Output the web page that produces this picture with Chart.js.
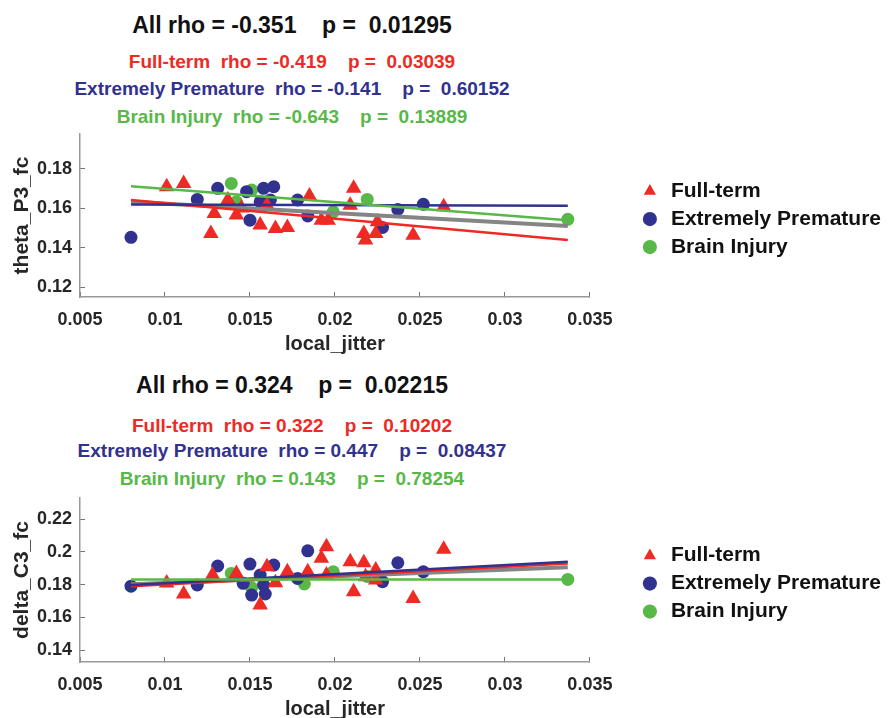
<!DOCTYPE html>
<html>
<head>
<meta charset="utf-8">
<script src="https://cdn.jsdelivr.net/npm/chart.js@4/dist/chart.umd.min.js"></script>
<style>
    html, body { margin: 0; padding: 0; background: #fff; }
    body { width: 891px; height: 718px; overflow: hidden; position: relative; font-family: 'Liberation Sans', Arial, sans-serif; }
    .title { position: absolute; left: 0; width: 584px; text-align: center; font-weight: bold; white-space: pre; }
    .main { font-size: 23px; line-height: 23px; color: #111; }
    .sub { font-size: 19px; line-height: 19px; }
    canvas { position: absolute; left: 0; }
</style>
</head>
<body>
<div class="title main" style="top:14px">All rho = -0.351    p =  0.01295</div>
<div class="title sub" style="top:52px;color:#ee2a24">Full-term  rho = -0.419    p =  0.03039</div>
<div class="title sub" style="top:79px;color:#31318f">Extremely Premature  rho = -0.141    p =  0.60152</div>
<div class="title sub" style="top:107px;color:#58b848">Brain Injury  rho = -0.643    p =  0.13889</div>
<canvas id="thetaChart" width="891" height="359" style="top:0"></canvas>

<div class="title main" style="top:374px">All rho = 0.324    p =  0.02215</div>
<div class="title sub" style="top:416px;color:#ee2a24">Full-term  rho = 0.322    p =  0.10202</div>
<div class="title sub" style="top:441px;color:#31318f">Extremely Premature  rho = 0.447    p =  0.08437</div>
<div class="title sub" style="top:469px;color:#58b848">Brain Injury  rho = 0.143    p =  0.78254</div>
<canvas id="deltaChart" width="891" height="365" style="top:359px"></canvas>

<script>
// group names (legend)
const groups = ['Full-term', 'Extremely Premature', 'Brain Injury'];

// axis ticks
const jitterTicks = [0.005, 0.01, 0.015, 0.02, 0.025, 0.03, 0.035];
const thetaTicks = [0.12, 0.14, 0.16, 0.18];
const deltaTicks = [0.14, 0.16, 0.18, 0.2, 0.22];

// ---- theta_P3_fc vs local_jitter (top) ----
const ftJitterTop = [0.0101, 0.0111, 0.0127, 0.0129, 0.0137, 0.0142, 0.0145, 0.0156, 0.0160, 0.0165, 0.0172,
    0.0185, 0.0192, 0.0196, 0.0209, 0.0211, 0.0217, 0.0218, 0.0224, 0.0225, 0.0246, 0.0264];
const ftTheta = [0.1708, 0.1725, 0.1472, 0.1573, 0.1641, 0.1565, 0.1600, 0.1514, 0.1615, 0.1497, 0.1502,
    0.1661, 0.1539, 0.1539, 0.1615, 0.1700, 0.1472, 0.1438, 0.1472, 0.1531, 0.1463, 0.1607];

const epJitterTop = [0.0080, 0.0119, 0.0131, 0.0148, 0.0150, 0.0156, 0.0158, 0.0162, 0.0164, 0.0178, 0.0184,
    0.0228, 0.0237, 0.0252];
const epTheta = [0.1452, 0.1644, 0.1700, 0.1683, 0.1539, 0.1632, 0.1700, 0.1641, 0.1708, 0.1641, 0.1560,
    0.1502, 0.1593, 0.1619];

const biJitterTop = [0.0139, 0.0142, 0.0151, 0.0199, 0.0219, 0.0337];
const biTheta = [0.1725, 0.1632, 0.1691, 0.1581, 0.1644, 0.1543];

// fitted lines (end points)
const fitJitter = [0.008, 0.0337];
const thetaFitAll = [0.1632, 0.1509];
const thetaFitFt = [0.1641, 0.1438];
const thetaFitEp = [0.1618, 0.1612];
const thetaFitBi = [0.1711, 0.1539];

// ---- delta_C3_fc vs local_jitter (bottom) ----
const ftJitterBottom = [0.0101, 0.0111, 0.0128, 0.0142, 0.0156, 0.0160, 0.0165, 0.0172, 0.0184, 0.0192, 0.0195,
    0.0195, 0.0209, 0.0211, 0.0217, 0.0218, 0.0224, 0.0224, 0.0246, 0.0264];
const ftDelta = [0.1810, 0.1743, 0.1859, 0.1869, 0.1675, 0.1910, 0.1812, 0.1879, 0.1879, 0.1961, 0.2032,
    0.1859, 0.1940, 0.1757, 0.1934, 0.1848, 0.1889, 0.1828, 0.1716, 0.2016];

const epJitterBottom = [0.0080, 0.0119, 0.0131, 0.0146, 0.0150, 0.0151, 0.0156, 0.0158, 0.0159, 0.0164, 0.0178,
    0.0184, 0.0228, 0.0237, 0.0252];
const epDelta = [0.1791, 0.1798, 0.1914, 0.1808, 0.1926, 0.1736, 0.1859, 0.1798, 0.1743, 0.1920, 0.1838,
    0.2007, 0.1818, 0.1934, 0.1879];

const biJitterBottom = [0.0139, 0.0151, 0.0182, 0.0199, 0.0219, 0.0337];
const biDelta = [0.1869, 0.1781, 0.1804, 0.1879, 0.1850, 0.1832];

const deltaFitAll = [0.1802, 0.1906];
const deltaFitFt = [0.1791, 0.1930];
const deltaFitEp = [0.1798, 0.1940];
const deltaFitBi = [0.1832, 0.1832];

const RED = '#ee2a24';
const BLUE = '#31318f';
const GREEN = '#58b848';
const GRAY = '#858585';

Chart.defaults.font.family = "'Liberation Sans', Arial, sans-serif";
Chart.defaults.color = '#222';

function toPoints(xs, ys) {
    return xs.map((x, i) => ({ x: x, y: ys[i] }));
}

function scatterSet(label, xs, ys, color, style, radius) {
    return {
        type: 'scatter',
        label: label,
        data: toPoints(xs, ys),
        backgroundColor: color,
        borderColor: color,
        borderWidth: 0,
        pointStyle: style,
        pointRadius: radius,
        order: 2
    };
}

function fitSet(ys, color, width) {
    return {
        type: 'line',
        label: 'fit',
        data: toPoints(fitJitter, ys),
        borderColor: color,
        borderWidth: width,
        pointRadius: 0,
        fill: false,
        order: 1
    };
}

// builds one panel: scatter of the 3 groups + regression lines
function makePanel(canvasId, series, fits, yTitle, yMin, yMax, yTicks, topPad) {
    const ctx = document.getElementById(canvasId).getContext('2d');
    return new Chart(ctx, {
        type: 'scatter',
        data: {
            datasets: [
                scatterSet(groups[0], series[0][0], series[0][1], RED, 'triangle', 9),
                scatterSet(groups[1], series[1][0], series[1][1], BLUE, 'circle', 6.5),
                scatterSet(groups[2], series[2][0], series[2][1], GREEN, 'circle', 6.5),
                fitSet(fits[3], GREEN, 2.5),
                fitSet(fits[2], BLUE, 2.5),
                fitSet(fits[1], RED, 2.5),
                fitSet(fits[0], GRAY, 4)
            ]
        },
        options: {
            responsive: false,
            animation: false,
            layout: { padding: { top: topPad, left: 0, right: 0, bottom: 0 } },
            plugins: {
                tooltip: { enabled: false },
                legend: {
                    position: 'right',
                    fullSize: false,
                    maxWidth: 400,
                    // empty title only pushes the entries down a little
                    title: { display: true, text: '', font: { size: 6 }, padding: 0 },
                    labels: {
                        usePointStyle: true,
                        boxHeight: 10,
                        padding: 7,
                        color: '#111',
                        font: { size: 21, weight: 'bold' },
                        filter: item => item.text !== 'fit'
                    }
                }
            },
            scales: {
                x: {
                    type: 'linear',
                    position: 'bottom',
                    min: 0.005,
                    max: 0.035,
                    afterBuildTicks: axis => { axis.ticks = jitterTicks.map(v => ({ value: v })); },
                    afterFit: scale => { scale.height = 62; },
                    ticks: {
                        font: { size: 18, weight: 'bold' }, color: '#262626', padding: 17, maxRotation: 0,
                        callback: value => String(value)
                    },
                    grid: { drawOnChartArea: false, tickLength: -5, color: '#777' },
                    border: { color: '#999', width: 1.5 },
                    title: {
                        display: true,
                        text: 'local_jitter',
                        font: { size: 20, weight: 'bold' },
                        color: '#262626',
                        padding: { top: 3, bottom: 3 }
                    }
                },
                y: {
                    type: 'linear',
                    position: 'left',
                    min: yMin,
                    max: yMax,
                    afterBuildTicks: axis => { axis.ticks = yTicks.map(v => ({ value: v })); },
                    afterFit: scale => { scale.width = 80; },
                    ticks: {
                        font: { size: 18, weight: 'bold' }, color: '#262626', padding: 13,
                        callback: value => String(value)
                    },
                    grid: { drawOnChartArea: false, tickLength: -5, color: '#777' },
                    border: { color: '#999', width: 1.5 },
                    title: {
                        display: true,
                        text: yTitle,
                        font: { size: 21, weight: 'bold' },
                        color: '#262626',
                        padding: { top: 9.4, bottom: 2 }
                    }
                },
                // empty spacer between the plot and the legend
                gap: {
                    type: 'linear',
                    position: 'right',
                    display: true,
                    grid: { display: false },
                    ticks: { display: false },
                    border: { display: false },
                    afterFit: scale => { scale.width = 42.5; }
                }
            }
        }
    });
}

makePanel('thetaChart',
    [[ftJitterTop, ftTheta], [epJitterTop, epTheta], [biJitterTop, biTheta]],
    [thetaFitAll, thetaFitFt, thetaFitEp, thetaFitBi],
    'theta_P3_fc', 0.115, 0.1975, thetaTicks, 134);

makePanel('deltaChart',
    [[ftJitterBottom, ftDelta], [epJitterBottom, epDelta], [biJitterBottom, biDelta]],
    [deltaFitAll, deltaFitFt, deltaFitEp, deltaFitBi],
    'delta_C3_fc', 0.1327, 0.233, deltaTicks, 139);
</script>
</body>
</html>
